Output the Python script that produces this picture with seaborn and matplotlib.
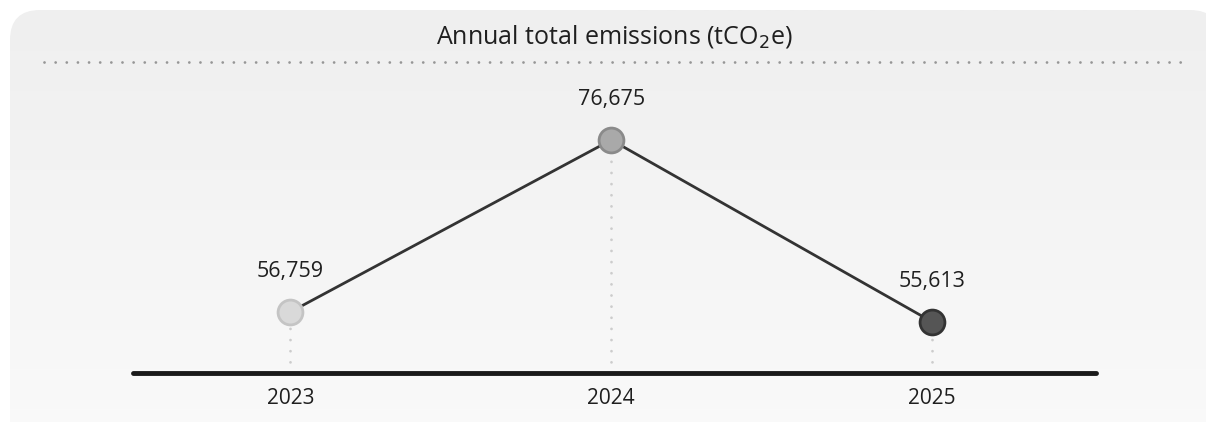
import numpy as np
import pandas as pd
import seaborn as sns
import matplotlib.pyplot as plt
from matplotlib.patches import FancyBboxPatch
from matplotlib.colors import LinearSegmentedColormap

years = ["2023", "2024", "2025"]
emissions = [56759, 76675, 55613]
labels = ["56,759", "76,675", "55,613"]
dot_fill = ["#d9d9d9", "#a9a9a9", "#555555"]
dot_edge = ["#c4c4c4", "#8a8a8a", "#333333"]

df = pd.DataFrame({"year": years, "pos": range(len(years)), "tco2e": emissions})

sns.set_theme(style="white")
plt.rcParams["font.family"] = ["Open Sans", "DejaVu Sans"]

fig = plt.figure(figsize=(12.06, 4.22), dpi=100)
fig.patch.set_facecolor("white")

# --- background panel (pixel coords)
bg = fig.add_axes([0, 0, 1, 1])
bg.set_xlim(0, 1206)
bg.set_ylim(422, 0)
bg.axis("off")
panel = FancyBboxPatch((10, 10), 1210, 440, boxstyle="round,pad=0,rounding_size=30",
                       facecolor="none", edgecolor="none")
bg.add_patch(panel)
cmap = LinearSegmentedColormap.from_list("g", ["#efefef", "#fafafa"])
grad = bg.imshow(np.linspace(0, 1, 256).reshape(-1, 1), cmap=cmap, aspect="auto",
                 extent=(10, 1220, 450, 10), zorder=0)
grad.set_clip_path(panel)
bg.set_xlim(0, 1206)
bg.set_ylim(422, 0)
bg.plot([44, 1186], [62, 62], color="#969696", lw=2, linestyle=(0, (0.01, 4)),
        dash_capstyle="round")
bg.text(614, 36, "Annual total emissions (tCO$_2$e)", ha="center", va="center",
        fontsize=18, color="#1f1f1f")

# --- main chart
ax = fig.add_axes([133 / 1206, 1 - 373 / 422, 963 / 1206, 311 / 422])
ax.patch.set_alpha(0)
ax.set_xlim(-0.49, 2.51)
ax.set_ylim(49700, 85700)

ax.vlines(df["pos"], 49700, df["tco2e"], color="#cccccc", lw=2,
          linestyles=[(0, (0.01, 4))], capstyle="round", zorder=1)
sns.lineplot(data=df, x="pos", y="tco2e", color="#333333", lw=2, ax=ax, zorder=2)
for i in range(len(df)):
    ax.scatter(df["pos"][i], df["tco2e"][i], s=320, color=dot_fill[i],
               edgecolor=dot_edge[i], linewidth=2, zorder=3)
    ax.annotate(labels[i], (df["pos"][i], df["tco2e"][i]), xytext=(0, 29),
                textcoords="offset points", ha="center", va="center",
                fontsize=15.5, color="#1f1f1f")

for s in ["top", "left", "right"]:
    ax.spines[s].set_visible(False)
ax.spines["bottom"].set_color("#1a1a1a")
ax.spines["bottom"].set_linewidth(3.5)
ax.spines["bottom"].set_capstyle("round")
ax.set_yticks([])
ax.set_xticks(df["pos"])
ax.set_xticklabels(years, fontsize=15, color="#1f1f1f")
ax.tick_params(axis="x", length=0, pad=11)
ax.set_xlabel("")
ax.set_ylabel("")

fig.savefig("out.png", dpi=100)
